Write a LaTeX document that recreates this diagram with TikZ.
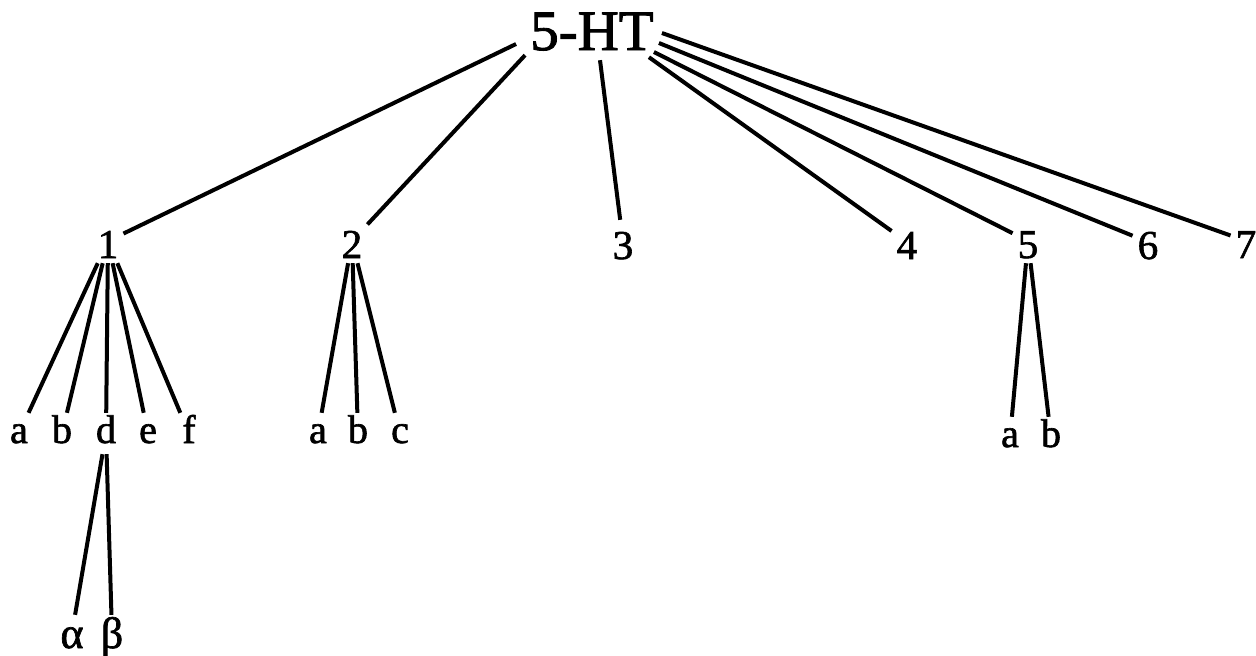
\documentclass[tikz,border=0pt]{standalone}
\usepackage{fontspec}
\setmainfont{Liberation Serif}[FakeBold=1.6]
\begin{document}
\begin{tikzpicture}[x=1pt,y=-1pt,
  lbl/.style={anchor=base,inner sep=5pt,font=\fontsize{41}{48}\selectfont,text height=34pt,text depth=0pt},
  leaf/.style={anchor=base,inner sep=3pt,font=\fontsize{40}{46}\selectfont,text height=27pt,text depth=8pt},
  greek/.style={anchor=base,inner sep=3pt,font=\fontsize{44}{52}\selectfont,text height=30pt,text depth=0pt},
  top/.style={anchor=base,inner sep=8pt,font=\fontsize{57}{66}\selectfont,text height=40pt,text depth=2pt},
  edge/.style={line width=4pt}]
\useasboundingbox (0,0) rectangle (1256,656);
\node[top] (ht) at (592,50) {5-HT};
\node[lbl] (n1) at (108,258) {1};
\node[lbl] (n2) at (352,258) {2};
\node[lbl] (n3) at (623,259) {3};
\node[lbl] (n4) at (907,259) {4};
\node[lbl] (n5) at (1028,258) {5};
\node[lbl] (n6) at (1148,259) {6};
\node[lbl] (n7) at (1246,258) {7};
\node[leaf] (a1) at (19,443) {a};
\node[leaf] (b1) at (62,443) {b};
\node[leaf] (d1) at (106,443) {d};
\node[leaf] (e1) at (148,443) {e};
\node[leaf] (f1) at (189,443) {f};
\node[leaf] (a2) at (318,443) {a};
\node[leaf] (b2) at (358,443) {b};
\node[leaf] (c2) at (400,443) {c};
\node[leaf] (a5) at (1010,447) {a};
\node[leaf] (b5) at (1051,447) {b};
\node[greek] (al) at (72,648) {α};
\node[greek] (be) at (112,648) {β};
\coordinate (s1) at ([xshift=-6pt,yshift=-13pt]ht.west);
\coordinate (s2) at ([xshift=3pt,yshift=5pt]ht.south west);
\coordinate (s3) at ([xshift=8pt]ht.south);
\coordinate (s4) at ([xshift=-13pt,yshift=3pt]ht.south east);
\coordinate (s5) at ([xshift=-8pt,yshift=-21pt]ht.east);
\coordinate (s6) at ([xshift=-3pt,yshift=-12pt]ht.east);
\coordinate (s7) at ([yshift=-2pt]ht.east);
\foreach \i in {1,...,7} \draw[edge] (s\i) -- (n\i);
\foreach \c in {a1,b1,d1,e1,f1} \draw[edge] (n1) -- (\c);
\foreach \c in {a2,b2,c2} \draw[edge] (n2) -- (\c);
\foreach \c in {a5,b5} \draw[edge] (n5) -- (\c);
\foreach \c in {al,be} \draw[edge] (d1) -- (\c);
\end{tikzpicture}
\end{document}
